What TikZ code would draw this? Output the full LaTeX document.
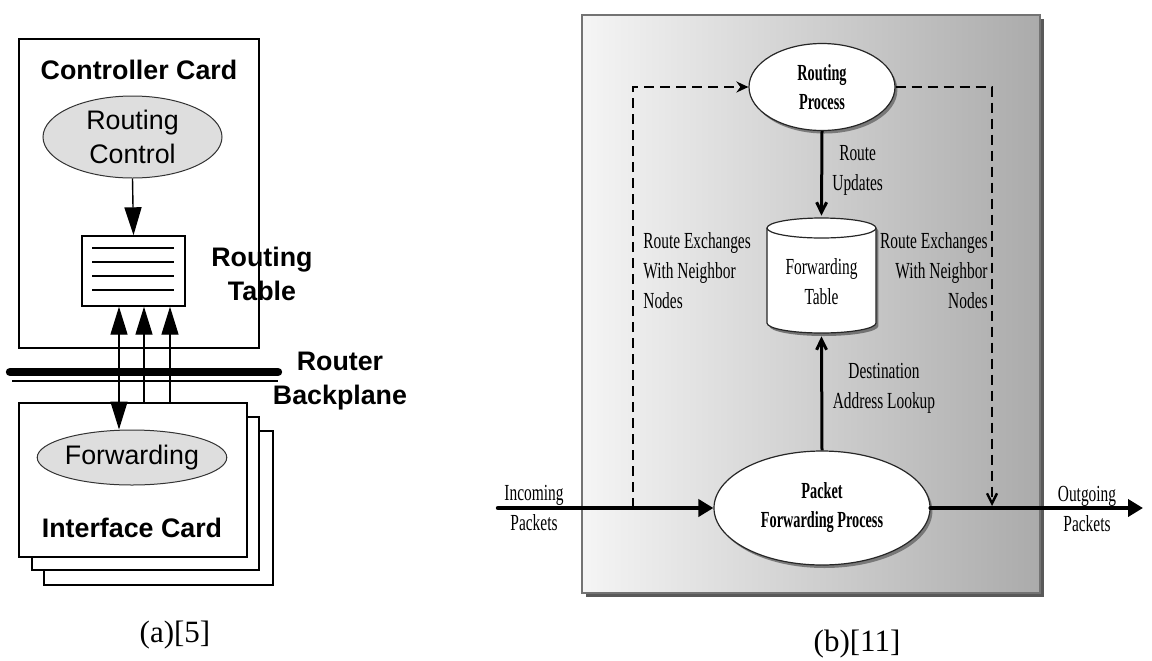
\documentclass[tikz,border=0pt]{standalone}
\usepackage{fontspec}
\setmainfont{Liberation Serif}
\newfontfamily\arialfam{Liberation Sans}
\newfontfamily\narrowserif[FakeStretch=0.67]{Liberation Serif}
\newfontfamily\narrowbold[FakeStretch=0.62]{Liberation Serif Bold}
\usetikzlibrary{arrows.meta,shadows,shapes.geometric}

\begin{document}
\begin{tikzpicture}[x=0.5pt,y=-0.5pt,
  card/.style={draw=black, line width=0.7pt, fill=white},
  grayoval/.style={ellipse, draw=black!80, line width=0.5pt, fill=black!13, inner sep=0pt,
    font=\arialfam\fontsize{13.4}{17}\selectfont, align=center},
  sanslabel/.style={font=\arialfam\bfseries\fontsize{13.4}{17}\selectfont, align=center, inner sep=0pt},
  bighead/.style={-{Triangle[length=14pt,width=8.5pt]}, line width=0.7pt},
  whiteoval/.style={ellipse, draw=black!85, line width=0.6pt, fill=white, inner sep=0pt,
    drop shadow={shadow xshift=1.2pt, shadow yshift=-1.5pt, fill=black!60, opacity=0.8},
    font=\narrowbold\fontsize{11.5}{14.5}\selectfont, align=center},
  serlabel/.style={font=\narrowserif\fontsize{11.5}{15}\selectfont, inner sep=0pt},
  flow/.style={line width=2.2pt, line cap=round, -{Triangle[length=7.5pt,width=8.5pt]}},
  exch/.style={line width=1.2pt, dash pattern=on 5pt off 3pt},
  update/.style={line width=1.5pt, -{Straight Barb[length=5pt,width=5pt]}},
  caption/.style={font=\fontsize{15.5}{18}\selectfont, inner sep=0pt, anchor=base}]

\useasboundingbox[fill=white] (0,0) rectangle (1152,660);

% ---------- (a) router with controller and interface cards ----------
\node[card, minimum width=120pt, minimum height=154.5pt, inner sep=0pt] (cc) at (139,193.5) {};
\node[sanslabel] (cctitle) at (139,70.3) {Controller Card};
\node[grayoval, minimum width=89.5pt, minimum height=41pt] (rc) at (132.5,137) {Routing\\Control};

\node[card, minimum width=51.5pt, minimum height=35pt, inner sep=0pt] (rt) at (133.5,271) {};
\foreach \yy in {248,262,276,290}
  \draw[line width=0.7pt] (92,\yy) -- (174,\yy);
\node[sanslabel] (rtlabel) at (262,273.8) {Routing\\Table};

\draw[bighead] (rc.south) -- (rt.north);

% backplane bus
\draw[line width=4.2pt, line cap=round] (10,372) -- (278,372);
\draw[line width=0.8pt] (12,381) -- (278,381);
\node[sanslabel] (bplabel) at (340,381.5) {Router\\Backplane};

% stacked interface cards
\draw[card] (44,431) rectangle (273,585);
\draw[card] (32,417) rectangle (259,570);
\node[card, minimum width=114pt, minimum height=77pt, inner sep=0pt] (ifc) at (133,480) {};
\node[grayoval, minimum width=89pt, minimum height=27.5pt] (fw) at (132,457.5) {Forwarding};
\node[sanslabel] (iflabel) at (132,528.3) {Interface Card};

\coordinate (a1) at (119,403);
\coordinate (a2) at (144,403);
\coordinate (a3) at (170,403);
\draw[{Triangle[length=14pt,width=8.5pt]}-{Triangle[length=14pt,width=8.5pt]}, line width=0.7pt]
  (rt.south -| a1) -- (fw.north -| a1);
\draw[bighead] (a2) -- (rt.south -| a2);
\draw[bighead] (a3) -- (rt.south -| a3);

\node[caption] (capa) at (175,642) {(a)[5]};

% ---------- (b) routing and forwarding processes ----------
\fill[black!65] (586,19) rectangle (1044,597);
\shade[left color=black!4, right color=black!33] (582,15) rectangle (1040,593);
\draw[black!55, line width=0.6pt] (582,15) rectangle (1040,593);

\node[whiteoval, minimum width=73pt, minimum height=43.5pt] (rp) at (822,87) {Routing\\Process};
\node[whiteoval, minimum width=108pt, minimum height=57pt] (pfp) at (822,508) {Packet\\Forwarding Process};

% forwarding table drawn as a cylinder
\begin{scope}[xshift=1.2pt, yshift=-1.5pt]
  \fill[black!55] (767,228) -- (767,323)
    arc[start angle=180, end angle=360, x radius=27.25pt, y radius=5pt] -- (876,228)
    arc[start angle=0, end angle=180, x radius=27.25pt, y radius=5pt] -- cycle;
\end{scope}
\draw[black!85, line width=0.6pt, fill=white] (767,228) -- (767,323)
  arc[start angle=180, end angle=360, x radius=27.25pt, y radius=5pt] -- (876,228)
  arc[start angle=0, end angle=180, x radius=27.25pt, y radius=5pt] -- cycle;
\draw[black!85, line width=0.6pt] (767,228)
  arc[start angle=180, end angle=360, x radius=27.25pt, y radius=5pt];
\node[serlabel, align=center, minimum width=54.5pt, minimum height=60pt] (ft) at (821.5,276)
  {\rule{0pt}{14pt}Forwarding\\Table};

% route exchanges with neighbours
\coordinate (jl) at (633,508);
\coordinate (jr) at (992,506);
\draw[exch, -{Stealth[length=6pt,width=5.5pt]}] (jl) |- (rp.west);
\draw[exch, -{Straight Barb[length=5pt,width=5pt]}] (rp.east) -| (jr);

% packet flow
\coordinate (inc) at (498,508);
\coordinate (outg) at (1143,508);
\draw[flow] (inc) -- (pfp.west);
\draw[flow] (pfp.east) -- (outg);

\draw[update] (rp.south) -- (ft.north);
\draw[update] (pfp.north) -- (ft.south);

\node[serlabel, anchor=west, align=center] (rulabel) at (832,170) {Route\\Updates};
\node[serlabel, anchor=west, align=left] (rexl) at (643,271) {Route Exchanges\\With Neighbor\\Nodes};
\node[serlabel, anchor=east, align=right] (rexr) at (988,271) {Route Exchanges\\With Neighbor\\Nodes};
\node[serlabel, align=center] (dlabel) at (884,388) {Destination\\Address Lookup};
\node[serlabel, align=center] (inlabel) at (534,508) {Incoming\\Packets};
\node[serlabel, align=center] (outlabel) at (1087,509) {Outgoing\\Packets};

\node[caption] (capb) at (857,651) {(b)[11]};
\end{tikzpicture}
\end{document}
